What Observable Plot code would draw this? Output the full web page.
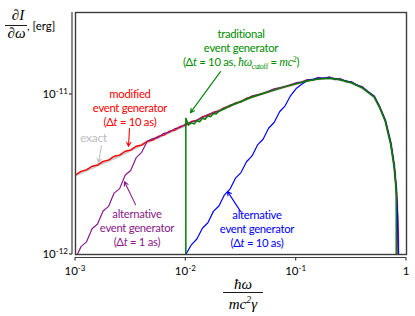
<!DOCTYPE html>
<html><head><meta charset="utf-8">
<script src="https://cdn.jsdelivr.net/npm/d3@7"></script>
<script src="https://cdn.jsdelivr.net/npm/@observablehq/plot@0.6"></script>
<style>
body{margin:0;background:#fff;}
#chart svg{display:block;}
</style></head><body><div id="chart"></div>
<script>
// ---- data (x = ħω/(mc²γ), y = ∂I/∂ω in units of 1e-12 erg) ----
const exactX = [0.001, 0.001585, 0.002512, 0.003981, 0.00631, 0.01, 0.01585, 0.02512, 0.03981, 0.0631, 0.1, 0.1259, 0.1585, 0.1995, 0.2512, 0.3162, 0.3981, 0.5097, 0.5694, 0.6426, 0.7216, 0.7737, 0.8098, 0.8288, 0.843];
const exactY = [3.14, 3.62, 4.15, 4.85, 5.6, 6.42, 7.42, 8.5, 9.65, 10.7, 11.7, 12.2, 12.55, 12.65, 12.35, 11.85, 11.0, 9.68, 8.35, 6.85, 4.92, 3.58, 2.5, 1.74, 1.0];

const modifiedX = [0.001, 0.001122, 0.001259, 0.001413, 0.001585, 0.001778, 0.001995, 0.002239, 0.002512, 0.002818, 0.003162, 0.003548, 0.003981, 0.004467, 0.005012, 0.005623, 0.00631, 0.007079, 0.007943, 0.008913, 0.01, 0.01122, 0.01259, 0.01413, 0.01585, 0.01778, 0.01995, 0.02239, 0.02512, 0.02818, 0.03162, 0.03548, 0.03981, 0.0631, 0.1, 0.1259, 0.1585, 0.1995, 0.2512, 0.3162, 0.3981, 0.5097, 0.5694, 0.6426, 0.7216, 0.7737, 0.8098, 0.8288, 0.843];
const modifiedY = [3.14, 3.31, 3.38, 3.56, 3.62, 3.82, 3.89, 4.11, 4.18, 4.42, 4.49, 4.75, 4.83, 5.1, 5.19, 5.47, 5.57, 5.89, 5.99, 6.32, 6.44, 6.78, 6.88, 7.26, 7.36, 7.75, 7.86, 8.28, 8.41, 8.86, 9.0, 9.47, 9.65, 10.7, 11.7, 12.2, 12.55, 12.7, 12.4, 11.9, 11.05, 9.7, 8.4, 6.9, 4.95, 3.6, 2.5, 1.75, 1.0];

const alt1X = [0.00104, 0.001122, 0.001259, 0.001413, 0.001585, 0.001778, 0.001995, 0.002239, 0.002512, 0.002818, 0.003162, 0.003548, 0.003981, 0.004467, 0.005012, 0.005623, 0.00631, 0.007079, 0.007943, 0.008913, 0.01, 0.01259, 0.01585, 0.01995, 0.02512, 0.03162, 0.03981, 0.05012, 0.0631, 0.07943, 0.1, 0.1122, 0.1259, 0.1413, 0.1585, 0.1778, 0.1995, 0.2239, 0.2512, 0.2818, 0.3162, 0.3548, 0.3981, 0.4467, 0.5097, 0.5694, 0.6426, 0.7216, 0.7737, 0.8098, 0.8288, 0.843];
const alt1Y = [1.0, 1.12, 1.2, 1.45, 1.55, 1.87, 2.0, 2.42, 2.58, 3.13, 3.35, 4.03, 4.35, 5.1, 5.3, 5.38, 5.72, 5.8, 6.12, 6.22, 6.56, 6.9, 7.5, 7.9, 8.55, 9.02, 9.8, 10.15, 10.85, 11.2, 11.85, 11.95, 12.4, 12.35, 12.8, 12.55, 12.9, 12.4, 12.6, 12.0, 12.05, 11.4, 11.2, 10.4, 9.8, 8.4, 6.88, 4.94, 3.6, 2.55, 1.8, 1.0];

const alt10X = [0.01, 0.01122, 0.01259, 0.01413, 0.01585, 0.01778, 0.01995, 0.02239, 0.02512, 0.02818, 0.03162, 0.03548, 0.03981, 0.04467, 0.05012, 0.05623, 0.0631, 0.07079, 0.07943, 0.08913, 0.1, 0.1122, 0.1259, 0.1585, 0.1995, 0.2512, 0.3162, 0.3981, 0.5097, 0.5694, 0.6426, 0.7216, 0.7737, 0.8098, 0.8288, 0.846];
const alt10Y = [1.0, 1.15, 1.25, 1.46, 1.58, 1.86, 2.01, 2.36, 2.56, 3.0, 3.25, 3.8, 4.13, 4.84, 5.25, 6.15, 6.68, 7.8, 8.5, 9.85, 10.9, 11.6, 12.2, 12.6, 12.7, 12.4, 11.9, 11.06, 9.72, 8.4, 6.88, 4.94, 3.6, 2.51, 1.75, 1.0];

const tradX = [0.01, 0.01, 0.01059, 0.01122, 0.01189, 0.01259, 0.01334, 0.01413, 0.01496, 0.01585, 0.01679, 0.01778, 0.01884, 0.01995, 0.02239, 0.02512, 0.02818, 0.03162, 0.03981, 0.05012, 0.0631, 0.07943, 0.1, 0.1259, 0.1585, 0.1995, 0.2512, 0.3162, 0.3981, 0.5097, 0.5694, 0.6426, 0.7216, 0.7737, 0.80, 0.807, 0.807];
const tradY = [0.9, 7.1, 6.45, 6.65, 6.55, 6.85, 6.75, 7.1, 7.0, 7.35, 7.25, 7.6, 7.55, 7.85, 8.15, 8.5, 8.75, 9.05, 9.65, 10.15, 10.65, 11.2, 11.65, 12.15, 12.5, 12.62, 12.35, 11.85, 11.0, 9.65, 8.35, 6.8, 4.85, 3.5, 2.75, 2.35, 0.9];

const xTicks = [0.001, 0.01, 0.1, 1];
const xTickLabels = [["10", "-3"], ["10", "-2"], ["10", "-1"], ["1", ""]];
const yTicks = [1, 10];
const yTickLabels = [["10", "-12"], ["10", "-11"]];
const xDomain = [0.001, 1];
const yDomain = [1, 32.55];

// ---- styling ----
const C = {exact: "#c8c8c8", red: "#ff0000", purple: "#8a1a8a", blue: "#0000ff", green: "#008000", greenText: "#008c00", axis: "#3c3c3c"};
const SANS = "Lato, 'Open Sans', sans-serif";
const SERIF = "'Liberation Serif', 'DejaVu Serif', serif";

const series = [
  {x: exactX, y: exactY, color: C.exact, w: 2.8},
  {x: modifiedX, y: modifiedY, color: C.red, w: 1.4},
  {x: alt1X, y: alt1Y, color: C.purple, w: 1.2},
  {x: alt10X, y: alt10Y, color: C.blue, w: 1.2},
  {x: tradX, y: tradY, color: C.green, w: 1.5}
];
const toRows = s => s.x.map((x, i) => ({x, y: s.y[i]}));

const arrows = [
  {x1: 0.0206, y1: 13.9, x2: 0.01102, y2: 7.7, color: C.green},
  {x1: 0.003087, y1: 6.13, x2: 0.003022, y2: 4.75, color: C.red},
  {x1: 0.00172, y1: 4.8, x2: 0.001616, y2: 3.75, color: "#c0c0c0"},
  {x1: 0.0035, y1: 2.05, x2: 0.00278, y2: 2.85, color: C.purple},
  {x1: 0.0313, y1: 1.86, x2: 0.02385, y2: 2.48, color: C.blue}
];

const plot = Plot.plot({
  width: 415, height: 316,
  marginLeft: 75, marginRight: 9, marginTop: 12, marginBottom: 62,
  style: {background: "#fff"},
  x: {type: "log", domain: xDomain, axis: null},
  y: {type: "log", domain: yDomain, axis: null},
  marks: [
    ...series.map(s => Plot.line(toRows(s), {x: "x", y: "y", stroke: s.color, strokeWidth: s.w, clip: true, strokeLinejoin: "round"})),
    Plot.arrow(arrows, {x1: "x1", y1: "y1", x2: "x2", y2: "y2", stroke: "color", strokeWidth: 1.1, headLength: 6, headAngle: 55}),
    Plot.frame({stroke: C.axis, strokeWidth: 1.4})
  ]
});
document.getElementById("chart").appendChild(plot);

const sx = plot.scale("x"), sy = plot.scale("y");
const svg = d3.select(plot);
const g = svg.append("g");
const L = sx.apply(xDomain[0]), R = sx.apply(xDomain[1]);
const T = sy.apply(yDomain[1]), B = sy.apply(yDomain[0]);

// axis lines and ticks
const yAxX = L - 3;
g.append("line").attr("x1", yAxX).attr("x2", yAxX).attr("y1", T).attr("y2", B).attr("stroke", C.axis).attr("stroke-width", 1.2);
const xAxY = B + 3.5;
g.append("line").attr("x1", L).attr("x2", R).attr("y1", xAxY).attr("y2", xAxY).attr("stroke", C.axis).attr("stroke-width", 1.2);
yTicks.forEach(t => g.append("line").attr("x1", yAxX - 3).attr("x2", yAxX).attr("y1", sy.apply(t)).attr("y2", sy.apply(t)).attr("stroke", C.axis).attr("stroke-width", 1.2));
xTicks.forEach(t => g.append("line").attr("x1", sx.apply(t)).attr("x2", sx.apply(t)).attr("y1", xAxY).attr("y2", xAxY + 3).attr("stroke", C.axis).attr("stroke-width", 1.2));

function rich(x, y, segs, opts = {}) {
  const t = g.append("text").attr("x", x).attr("y", y)
    .attr("text-anchor", opts.anchor || "middle")
    .attr("fill", opts.color || "#000")
    .attr("font-family", opts.family || SANS)
    .attr("font-size", opts.size || 11);
  if (opts.ls) t.attr("letter-spacing", opts.ls);
  let shift = 0;
  for (const s of segs) {
    const sp = t.append("tspan").text(s.t);
    const target = s.shift || 0;
    if (target !== shift) { sp.attr("dy", target - shift); shift = target; }
    if (s.it) sp.attr("font-style", "italic");
    if (s.serif) sp.attr("font-family", SERIF);
    if (s.size) sp.attr("font-size", s.size);
  }
  return t;
}

// tick labels
xTicks.forEach((t, i) => {
  const [b, e] = xTickLabels[i];
  const segs = [{t: b}];
  if (e) segs.push({t: e, shift: -4, size: 8});
  rich(sx.apply(t), 275, segs, {size: 11.5});
});
yTicks.forEach((t, i) => {
  const [b, e] = yTickLabels[i];
  rich(yAxX - 4, sy.apply(t) + 4, [{t: b}, {t: e, shift: -4, size: 8}], {anchor: "end", size: 11.5});
});

// y-axis title (fraction)
rich(18, 20, [{t: "∂I"}], {family: SERIF, size: 15, color: "#000"}).attr("font-style", "italic");
g.append("line").attr("x1", 5).attr("x2", 27).attr("y1", 25.5).attr("y2", 25.5).attr("stroke", "#000").attr("stroke-width", 0.9);
rich(16.5, 38, [{t: "∂ω"}], {family: SERIF, size: 15}).attr("font-style", "italic");
rich(27, 30, [{t: ", [erg]"}], {anchor: "start", size: 11.5});

// x-axis title (fraction)
const xc = (L + R) / 2 + 2.5;
rich(xc, 289, [{t: "ħω"}], {family: SERIF, size: 15}).attr("font-style", "italic");
g.append("line").attr("x1", xc - 20).attr("x2", xc + 20).attr("y1", 292.5).attr("y2", 292.5).attr("stroke", "#000").attr("stroke-width", 0.9);
rich(xc, 309, [{t: "mc"}, {t: "2", shift: -6, size: 10}, {t: "γ", shift: 0}], {family: SERIF, size: 15}).attr("font-style", "italic");

// annotations
const ann = {size: 11.3, ls: -0.3};
rich(241, 38, [{t: "traditional"}], {...ann, color: C.greenText});
rich(241, 52, [{t: "event generator"}], {...ann, color: C.greenText});
rich(241, 66, [{t: "(Δ"}, {t: "t", it: true}, {t: " = 10 as, "}, {t: "ħω", it: true, serif: true, size: 12}, {t: "cutoff", serif: true, size: 7.5, shift: 2.5}, {t: " = ", shift: 0}, {t: "mc", it: true, serif: true, size: 12}, {t: "2", serif: true, size: 8, shift: -4}, {t: ")", shift: 0}], {...ann, color: C.greenText});

rich(130, 98, [{t: "modified"}], {...ann, color: C.red});
rich(130, 112, [{t: "event generator"}], {...ann, color: C.red});
rich(130, 126, [{t: "(Δ"}, {t: "t", it: true}, {t: " = 10 as)"}], {...ann, color: C.red});

rich(93.5, 142, [{t: "exact"}], {...ann, size: 12, color: "#bdbdbd"});

rich(137, 218, [{t: "alternative"}], {...ann, color: C.purple});
rich(137, 232, [{t: "event generator"}], {...ann, color: C.purple});
rich(137, 246, [{t: "(Δ"}, {t: "t", it: true}, {t: " = 1 as)"}], {...ann, color: C.purple});

rich(257, 219, [{t: "alternative"}], {...ann, color: C.blue});
rich(257, 233, [{t: "event generator"}], {...ann, color: C.blue});
rich(257, 247, [{t: "(Δ"}, {t: "t", it: true}, {t: " = 10 as)"}], {...ann, color: C.blue});
</script>
</body></html>
